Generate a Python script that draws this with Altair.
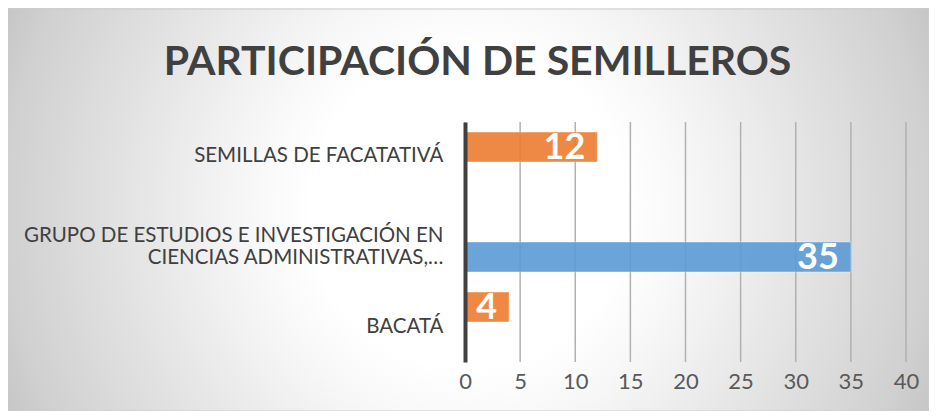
import altair as alt
import pandas as pd

categories = ["SEMILLAS DE FACATATIVÁ",
              "GRUPO DE ESTUDIOS E INVESTIGACIÓN EN\nCIENCIAS ADMINISTRATIVAS,…",
              "BACATÁ"]
series = ["Serie 2", "Serie 1", "Serie 2"]
values = [12, 35, 4]
ticks = [0, 5, 10, 15, 20, 25, 30, 35, 40]
series_order = ["Serie 2", "Serie 1"]
series_colors = ["#ED7D31", "#5B9BD5"]

FONT = "Lato"
W, H = 441, 240

df = pd.DataFrame({"cat": categories, "serie": series, "v": values})
tick_df = pd.DataFrame({"t": ticks})
bg_df = pd.DataFrame({"k": [0]})

y_enc = alt.Y("cat:N", sort=categories,
              scale=alt.Scale(paddingInner=0.25, paddingOuter=0.125),
              axis=alt.Axis(title=None, labelExpr="split(datum.label, '\\n')",
                            labelFont=FONT, labelFontSize=20.5, labelColor="#404040",
                            labelPadding=22, labelLineHeight=22, ticks=False,
                            labelOffset={"condition": {"test": "indexof(datum.value, 'BACAT') == 0", "value": 5},
                                         "value": -6},
                            domainColor="#404040", domainWidth=4, labelLimit=600,
                            zindex=1))
yoff = alt.YOffset("serie:N", scale=alt.Scale(domain=series_order, paddingInner=0, paddingOuter=0))
x_scale = alt.Scale(domain=[0, 40], nice=False)

# circular radial background (square box, clipped by the svg)
bg = alt.Chart(bg_df).mark_rect(
    fill=alt.RadialGradient(gradient="radial", x1=0.5, y1=0.5, x2=0.5, y2=0.5, r1=0, r2=0.56,
                            stops=[alt.GradientStop(offset=0, color="#ffffff"),
                                   alt.GradientStop(offset=0.3, color="#ffffff"),
                                   alt.GradientStop(offset=0.42, color="#f7f7f7"),
                                   alt.GradientStop(offset=0.88, color="#d0d0d0"),
                                   alt.GradientStop(offset=1, color="#c0c0c0")]),
).encode(x=alt.value(-467), x2=alt.value(473), y=alt.value(-382), y2=alt.value(558))

frame = alt.Chart(bg_df).mark_rect(fill="transparent", stroke="#cccccc", strokeWidth=1).encode(
    x=alt.value(-458), x2=alt.value(W + 23), y=alt.value(-113), y2=alt.value(H + 49))

grid = alt.Chart(tick_df).mark_rule(color="#b0b0b0", strokeWidth=1.5).encode(
    x=alt.X("t:Q", scale=x_scale,
            axis=alt.Axis(values=ticks, title=None, grid=False, domain=False, ticks=False,
                          labelFont=FONT, labelFontSize=22, labelColor="#595959",
                          labelPadding=9, labelFlush=False, zindex=1))
)

bars = alt.Chart(df).mark_bar(opacity=0.9, stroke="#ffffff", strokeOpacity=0.4, strokeWidth=1).encode(
    x=alt.X("v:Q", scale=x_scale),
    y=y_enc,
    yOffset=yoff,
    color=alt.Color("serie:N", scale=alt.Scale(domain=series_order, range=series_colors), legend=None),
)

labels = alt.Chart(df).mark_text(align="right", baseline="middle", dx=-12, dy=1,
                                 font=FONT, fontWeight="bold", fontSize=36, color="white").encode(
    x=alt.X("v:Q", scale=x_scale),
    y=alt.Y("cat:N", sort=categories),
    yOffset=yoff,
    text="v:Q",
)

chart = alt.layer(bg, frame, grid, bars, labels).properties(
    width=W, height=H,
    title=alt.TitleParams("PARTICIPACIÓN DE SEMILLEROS", font=FONT, fontWeight="bold",
                          fontSize=41, color="#404040", anchor="middle", dx=-208, offset=-344),
    autosize=alt.AutoSizeParams(type="none"),
    padding={"left": 457, "top": 114, "right": 23, "bottom": 49},
).configure_view(stroke=None).configure(background="#ffffff")

chart.save("out.html", embed_options={"renderer": "svg", "actions": False})
